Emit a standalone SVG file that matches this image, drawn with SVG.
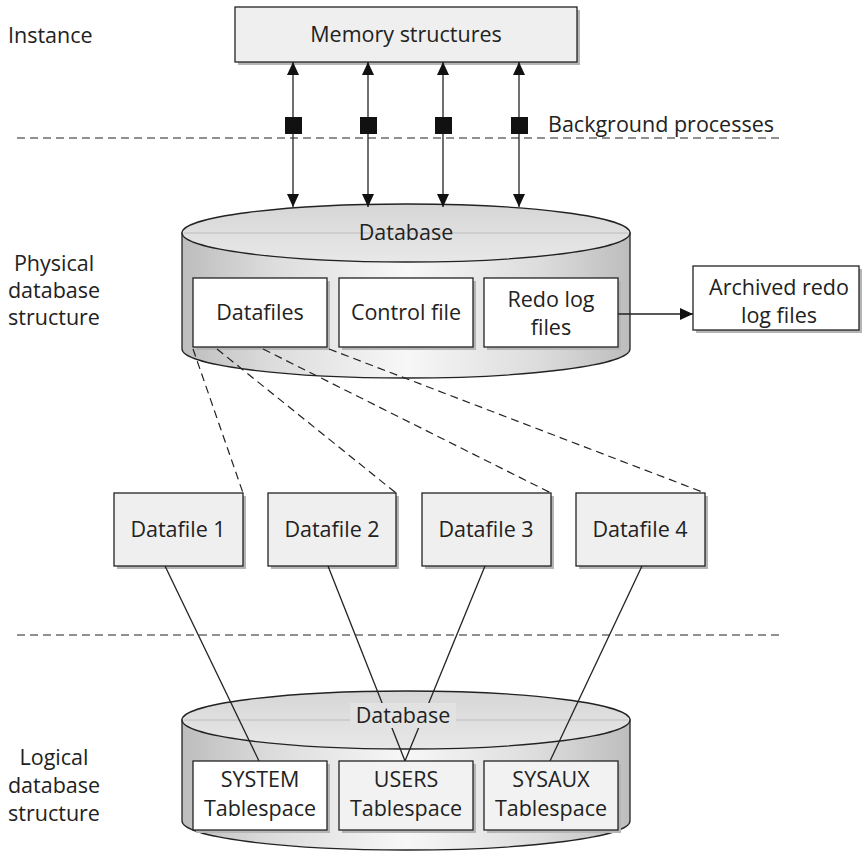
<svg xmlns="http://www.w3.org/2000/svg" width="864" height="860" viewBox="0 0 864 860">
<defs>
<style>
text{font-family:"Open Sans","Liberation Sans",sans-serif;font-size:21.5px;fill:#222;}
.c{text-anchor:middle;}
.box{stroke:#222;stroke-width:1.3;}
.shadow{fill:#b5b5b5;}
.ln{stroke:#222;stroke-width:1.3;fill:none;}
.dash{stroke:#222;stroke-width:1.2;fill:none;stroke-dasharray:8,5;}
.cyl{stroke:#222;stroke-width:1.3;}
</style>
<linearGradient id="side" x1="0" y1="0" x2="1" y2="0">
<stop offset="0" stop-color="#bdbdbd"/>
<stop offset="0.2" stop-color="#dcdcdc"/>
<stop offset="0.5" stop-color="#f7f7f7"/>
<stop offset="0.8" stop-color="#dcdcdc"/>
<stop offset="1" stop-color="#bdbdbd"/>
</linearGradient>
<linearGradient id="top" x1="0" y1="0" x2="0" y2="1">
<stop offset="0" stop-color="#d6d6d6"/>
<stop offset="1" stop-color="#e8e8e8"/>
</linearGradient>
<marker id="ah" markerWidth="13" markerHeight="13" viewBox="0 0 13 13" refX="13" refY="6.5" orient="auto-start-reverse" markerUnits="userSpaceOnUse">
<path d="M0,0.5 L13,6.5 L0,12.5 Z" fill="#111"/>
</marker>
</defs>
<rect width="864" height="860" fill="#fff"/>

<!-- side labels -->
<g id="label-instance"><text x="8" y="43">Instance</text></g>
<g id="label-physical">
<text class="c" x="54" y="271">Physical</text>
<text class="c" x="54" y="298">database</text>
<text class="c" x="54" y="325">structure</text>
</g>
<g id="label-logical">
<text class="c" x="54" y="765">Logical</text>
<text class="c" x="54" y="793">database</text>
<text class="c" x="54" y="821">structure</text>
</g>

<!-- separators -->
<g id="separators">
<line class="dash" x1="17" y1="138" x2="782" y2="138"/>
<line class="dash" x1="17" y1="635" x2="782" y2="635"/>
</g>
<g id="label-background"><text x="548" y="132">Background processes</text></g>

<!-- memory structures -->
<g id="memory">
<rect class="shadow" x="238" y="10" width="342" height="55"/>
<rect class="box" x="235" y="7" width="342" height="55" fill="#efefef"/>
<text class="c" x="406" y="42">Memory structures</text>
</g>

<!-- upper cylinder -->
<g id="database-physical">
<path class="cyl" d="M182,233 L182,349 A224,29 0 0 0 630,349 L630,233 Z" fill="url(#side)"/>
<ellipse class="cyl" cx="406" cy="233" rx="224" ry="29" fill="url(#top)"/>
<line x1="184" y1="233" x2="628" y2="233" stroke="#bcbcbc" stroke-width="1"/>
<text class="c" x="406" y="240">Database</text>
</g>
<g id="datafiles">
<rect class="shadow" x="196" y="281" width="134" height="69"/>
<rect class="box" x="193" y="278" width="134" height="69" fill="#fff"/>
<text class="c" x="260" y="320">Datafiles</text>
</g>
<g id="controlfile">
<rect class="shadow" x="342" y="281" width="134" height="69"/>
<rect class="box" x="339" y="278" width="134" height="69" fill="#fff"/>
<text class="c" x="406" y="320">Control file</text>
</g>
<g id="redologs">
<rect class="shadow" x="487" y="281" width="134" height="69"/>
<rect class="box" x="484" y="278" width="134" height="69" fill="#fff"/>
<text class="c" x="551" y="307">Redo log</text>
<text class="c" x="551" y="335">files</text>
</g>
<g id="archived">
<rect class="shadow" x="696" y="269" width="166" height="64"/>
<rect class="box" x="693" y="266" width="166" height="64" fill="#fff"/>
<text class="c" x="779" y="295">Archived redo</text>
<text class="c" x="779" y="323">log files</text>
</g>

<!-- datafile boxes -->
<g id="datafile1">
<rect class="shadow" x="117" y="496" width="129" height="73"/>
<rect class="box" x="114" y="493" width="129" height="73" fill="#efefef"/>
<text class="c" x="178" y="537">Datafile 1</text>
</g>
<g id="datafile2">
<rect class="shadow" x="271" y="496" width="128" height="73"/>
<rect class="box" x="268" y="493" width="128" height="73" fill="#efefef"/>
<text class="c" x="332" y="537">Datafile 2</text>
</g>
<g id="datafile3">
<rect class="shadow" x="425" y="496" width="129" height="73"/>
<rect class="box" x="422" y="493" width="129" height="73" fill="#efefef"/>
<text class="c" x="486" y="537">Datafile 3</text>
</g>
<g id="datafile4">
<rect class="shadow" x="579" y="496" width="129" height="73"/>
<rect class="box" x="576" y="493" width="129" height="73" fill="#efefef"/>
<text class="c" x="640" y="537">Datafile 4</text>
</g>

<!-- lower cylinder -->
<g id="database-logical">
<path class="cyl" d="M182,720 L182,821 A224,29 0 0 0 630,821 L630,720 Z" fill="url(#side)"/>
<ellipse class="cyl" cx="406" cy="720" rx="224" ry="29" fill="url(#top)"/>
<line x1="184" y1="720" x2="628" y2="720" stroke="#bcbcbc" stroke-width="1"/>
</g>

<!-- connectors -->
<g id="connectors">
<line class="ln" x1="293" y1="62" x2="293" y2="207" marker-start="url(#ah)" marker-end="url(#ah)"/>
<line class="ln" x1="368" y1="62" x2="368" y2="207" marker-start="url(#ah)" marker-end="url(#ah)"/>
<line class="ln" x1="443" y1="62" x2="443" y2="207" marker-start="url(#ah)" marker-end="url(#ah)"/>
<line class="ln" x1="519" y1="62" x2="519" y2="207" marker-start="url(#ah)" marker-end="url(#ah)"/>
<rect x="285" y="117" width="17" height="17" fill="#111"/>
<rect x="360" y="117" width="17" height="17" fill="#111"/>
<rect x="435" y="117" width="17" height="17" fill="#111"/>
<rect x="511" y="117" width="17" height="17" fill="#111"/>
<line class="ln" x1="618" y1="314" x2="693" y2="314" marker-end="url(#ah)"/>
<line class="dash" x1="193" y1="349" x2="243" y2="493"/>
<line class="dash" x1="217" y1="349" x2="396" y2="493"/>
<line class="dash" x1="263" y1="349" x2="551" y2="493"/>
<line class="dash" x1="329" y1="349" x2="705" y2="493"/>
<line class="ln" x1="165" y1="566" x2="259" y2="761"/>
<line class="ln" x1="328" y1="566" x2="405" y2="761"/>
<line class="ln" x1="485" y1="566" x2="405" y2="761"/>
<line class="ln" x1="642" y1="566" x2="550" y2="761"/>
</g>

<g id="db-label-logical">
<rect x="350" y="703" width="106" height="25" fill="#e2e2e2"/>
<text class="c" x="403" y="723">Database</text>
</g>

<g id="tbs-system">
<rect class="shadow" x="196" y="764" width="134" height="69"/>
<rect class="box" x="193" y="761" width="134" height="69" fill="#fff"/>
<text class="c" x="260" y="787">SYSTEM</text>
<text class="c" x="260" y="816">Tablespace</text>
</g>
<g id="tbs-users">
<rect class="shadow" x="342" y="764" width="134" height="69"/>
<rect class="box" x="339" y="761" width="134" height="69" fill="#f2f2f2"/>
<text class="c" x="406" y="787">USERS</text>
<text class="c" x="406" y="816">Tablespace</text>
</g>
<g id="tbs-sysaux">
<rect class="shadow" x="487" y="764" width="134" height="69"/>
<rect class="box" x="484" y="761" width="134" height="69" fill="#f2f2f2"/>
<text class="c" x="551" y="787">SYSAUX</text>
<text class="c" x="551" y="816">Tablespace</text>
</g>
</svg>
